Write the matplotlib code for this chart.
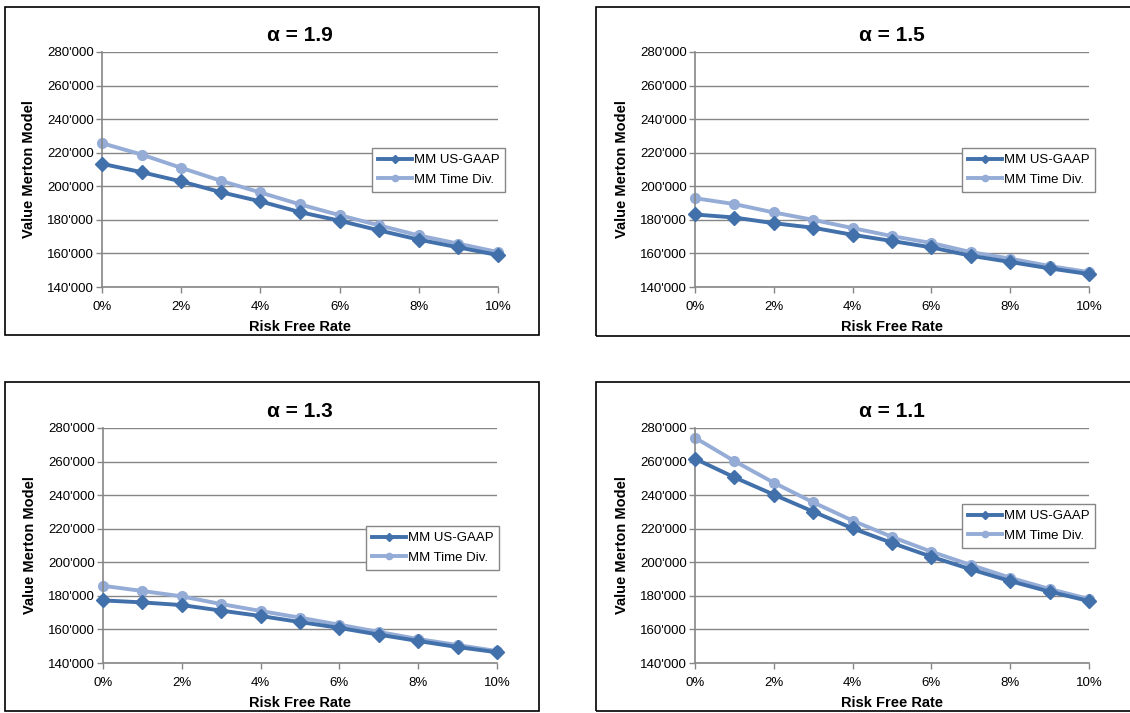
import matplotlib
matplotlib.use("Agg")
import matplotlib.pyplot as plt
from matplotlib.patches import Rectangle
from matplotlib.ticker import FuncFormatter

plt.rcParams['font.family'] = ['Liberation Sans', 'DejaVu Sans']

# risk free rate in percent
rates = [0, 1, 2, 3, 4, 5, 6, 7, 8, 9, 10]

alphas = ["1.9", "1.5", "1.3", "1.1"]

# values (in thousands)
us_gaap_19 = [213.4, 208.4, 202.9, 196.5, 191.0, 184.6, 179.5, 173.7, 168.2, 163.6, 159.0]
time_div_19 = [225.7, 218.9, 211.0, 203.3, 196.3, 189.2, 182.8, 176.7, 170.7, 165.8, 160.8]

us_gaap_15 = [183.2, 181.4, 178.0, 175.3, 171.1, 167.4, 163.6, 158.6, 154.9, 151.1, 147.7]
time_div_15 = [192.9, 189.4, 184.4, 180.0, 175.1, 170.3, 166.2, 160.8, 156.9, 152.5, 148.9]

us_gaap_13 = [177.3, 176.1, 174.5, 171.2, 168.0, 164.4, 160.9, 156.9, 153.1, 149.5, 146.4]
time_div_13 = [186.0, 182.9, 179.7, 175.1, 171.0, 167.0, 162.8, 158.5, 154.3, 150.7, 147.1]

us_gaap_11 = [261.7, 250.6, 240.3, 230.2, 220.2, 211.5, 203.3, 195.8, 188.8, 182.5, 176.9]
time_div_11 = [274.2, 260.3, 247.4, 235.7, 224.8, 215.1, 206.3, 198.4, 190.8, 184.1, 178.1]

series_gaap = [us_gaap_19, us_gaap_15, us_gaap_13, us_gaap_11]
series_time = [time_div_19, time_div_15, time_div_13, time_div_11]

W, H = 1130, 713
fig = plt.figure(figsize=(W / 100, H / 100), dpi=100)

# pixel boxes: (border x0, y0, x1, y1), (plot x0, y0, x1, y1), legend top-left
panels = [
    ((5, 7, 539, 335), (102, 52, 498, 287), (372, 148)),
    ((596, 7, 1135, 336), (695, 52, 1089, 287), (962, 148)),
    ((5, 382, 539, 711), (103, 428, 497, 663), (366, 526)),
    ((596, 382, 1135, 711), (695, 428, 1089, 663), (962, 504)),
]

dark = '#4170AB'
light = '#94ACD6'
grey = '#868686'

def fx(px):
    return px / W

def fy(py):
    return 1 - py / H

for i, (border, plot, leg) in enumerate(panels):
    bx0, by0, bx1, by1 = border
    fig.patches.append(Rectangle((fx(bx0), fy(by1)), fx(bx1 - bx0), (by1 - by0) / H,
                                 transform=fig.transFigure, fill=False,
                                 edgecolor='black', linewidth=1.2))
    px0, py0, px1, py1 = plot
    ax = fig.add_axes([fx(px0), fy(py1), fx(px1 - px0), (py1 - py0) / H])

    ax.plot(rates, [v * 1000 for v in series_gaap[i]], color=dark, lw=2.8,
            marker='D', markersize=7.5, label='MM US-GAAP', zorder=3, clip_on=False)
    ax.plot(rates, [v * 1000 for v in series_time[i]], color=light, lw=2.8,
            marker='o', markersize=7, label='MM Time Div.', zorder=2, clip_on=False)

    ax.set_xlim(0, 10)
    ax.set_ylim(140000, 280000)
    ax.set_xticks(range(0, 11, 2))
    ax.set_yticks(range(140000, 280001, 20000))
    ax.xaxis.set_major_formatter(FuncFormatter(lambda v, p: f"{int(v)}%"))
    ax.yaxis.set_major_formatter(FuncFormatter(lambda v, p: f"{int(v/1000)}'000"))
    ax.grid(axis='y', color=grey, lw=1)
    ax.set_axisbelow(True)
    for s in ['top', 'right']:
        ax.spines[s].set_visible(False)
    for s in ['left', 'bottom']:
        ax.spines[s].set_color(grey)
        ax.spines[s].set_linewidth(1.2)
    ax.tick_params(colors=grey, labelcolor='black', labelsize=9.5, length=4, width=1)
    ax.tick_params(axis='x', pad=6)
    ax.tick_params(axis='y', pad=2)

    ax.set_xlabel('Risk Free Rate', fontsize=10.5, fontweight='bold', labelpad=5)
    ax.set_ylabel('Value Merton Model', fontsize=10.5, fontweight='bold', labelpad=8)
    ax.set_title('\u03b1 = ' + alphas[i], fontsize=15, fontweight='bold', pad=8)

    lx, ly = leg
    lg = ax.legend(loc='upper left', bbox_to_anchor=(fx(lx), fy(ly)),
                   bbox_transform=fig.transFigure, fontsize=9.5, frameon=True,
                   fancybox=False, edgecolor=grey, framealpha=1,
                   handlelength=2.6, handletextpad=0.1, borderpad=0.45,
                   labelspacing=0.55, borderaxespad=0)
    lg.get_frame().set_linewidth(1)
    for h in lg.legend_handles:
        h.set_markersize(4.5)

fig.savefig('out.png', dpi=100)
